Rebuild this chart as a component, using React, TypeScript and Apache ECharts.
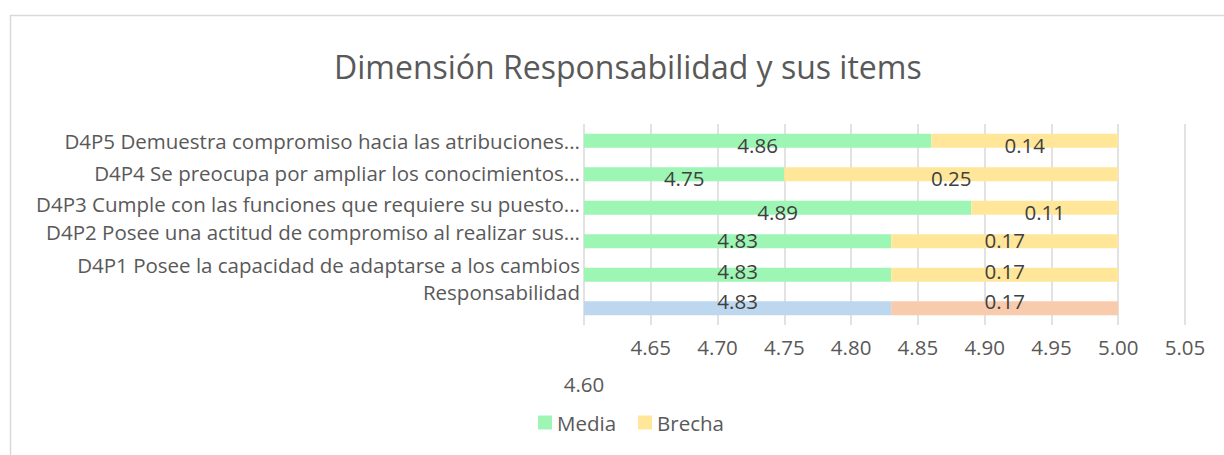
import React, { useEffect, useRef } from 'react';
import * as echarts from 'echarts';

// Bottom-to-top order (ECharts category y-axis starts at the bottom)
const categories = [
  'Responsabilidad',
  'D4P1 Posee la capacidad de adaptarse a los cambios',
  'D4P2 Posee una actitud de compromiso al realizar sus...',
  'D4P3 Cumple con las funciones que requiere su puesto...',
  'D4P4 Se preocupa por ampliar los conocimientos...',
  'D4P5 Demuestra compromiso hacia las atribuciones...',
];
const media = [4.83, 4.83, 4.83, 4.89, 4.75, 4.86];
const brecha = [0.17, 0.17, 0.17, 0.11, 0.25, 0.14];

const xMin = 4.6;
const xMax = 5.05;
const xStep = 0.05;

// styling helpers (not data)
const mediaColors = ['#BDD7EE', '#9DF6B4', '#9DF6B4', '#9DF6B4', '#9DF6B4', '#9DF6B4'];
const brechaColors = ['#F8CBAD', '#FFE699', '#FFE699', '#FFE699', '#FFE699', '#FFE699'];
const catLabelLift = [32, 20, 18, 8, 2, 0];
const dataLabelDy = [-7, -4, -1, 4, 4, 4];

const FONT = '"Open Sans", "Noto Sans", sans-serif';

export default function App() {
  const ref = useRef<HTMLDivElement>(null);
  useEffect(() => {
    if (!ref.current) return;
    const chart = echarts.init(ref.current, undefined, { renderer: 'svg' });
    const rich: Record<string, any> = {};
    catLabelLift.forEach((p, i) => {
      rich['c' + i] = {
        fontFamily: FONT,
        fontSize: 20.5,
        color: '#595959',
        padding: [0, 0, p, 0],
      };
    });
    const labelBase = {
      show: true,
      position: 'inside',
      fontFamily: FONT,
      fontSize: 20.5,
      color: '#404040',
      formatter: (p: any) => Number(p.value).toFixed(2),
    };
    chart.setOption({
      animation: false,
      backgroundColor: '#ffffff',
      textStyle: { fontFamily: FONT },
      graphic: {
        elements: [
          {
            type: 'rect',
            silent: true,
            shape: { x: 10.5, y: 15.5, width: 1240, height: 470 },
            style: { fill: 'transparent', stroke: '#D9D9D9', lineWidth: 1.5 },
          },
        ],
      },
      title: {
        text: 'Dimensión Responsabilidad y sus items',
        left: 329,
        top: 45,
        textStyle: { fontFamily: FONT, fontSize: 32, fontWeight: 'normal', color: '#595959' },
      },
      legend: {
        data: ['Media', 'Brecha'],
        left: 533,
        top: 407,
        itemWidth: 14,
        itemHeight: 14,
        itemGap: 22,
        icon: 'rect',
        textStyle: { fontFamily: FONT, fontSize: 20.5, color: '#595959' },
      },
      grid: { left: 584, right: 39, top: 124, bottom: 130, containLabel: false },
      xAxis: {
        type: 'value',
        min: xMin,
        max: xMax,
        interval: xStep,
        axisLine: { show: false },
        axisTick: { show: false },
        splitLine: { show: true, lineStyle: { color: '#D9D9D9', width: 1.5 } },
        axisLabel: {
          margin: 11,
          fontFamily: FONT,
          fontSize: 20.5,
          color: '#595959',
          formatter: (v: number, i: number) => {
            const s = v.toFixed(2);
            return i === 0 ? '{low|' + s + '}' : s;
          },
          rich: {
            low: { fontFamily: FONT, fontSize: 20.5, color: '#595959', padding: [37, 0, 0, 0] },
          },
        },
      },
      yAxis: {
        type: 'category',
        data: categories,
        axisLine: { show: false },
        axisTick: { show: false },
        axisLabel: {
          margin: 4,
          formatter: (v: string, i: number) => '{c' + i + '|' + v + '}',
          rich,
        },
      },
      series: [
        {
          name: 'Media',
          type: 'bar',
          stack: 'total',
          barWidth: 14,
          itemStyle: { color: '#9DF6B4' },
          label: labelBase,
          data: media.map((v, i) => ({
            value: v,
            itemStyle: { color: mediaColors[i] },
            label: { offset: [0, dataLabelDy[i]] },
          })),
        },
        {
          name: 'Brecha',
          type: 'bar',
          stack: 'total',
          barWidth: 14,
          itemStyle: { color: '#FFE699' },
          label: labelBase,
          data: brecha.map((v, i) => ({
            value: v,
            itemStyle: { color: brechaColors[i] },
            label: { offset: [0, dataLabelDy[i]] },
          })),
        },
      ],
    });
    return () => chart.dispose();
  }, []);
  return (
    <div
      ref={ref}
      style={{ position: 'fixed', left: 0, top: 0, width: 1224, height: 455 }}
    />
  );
}
